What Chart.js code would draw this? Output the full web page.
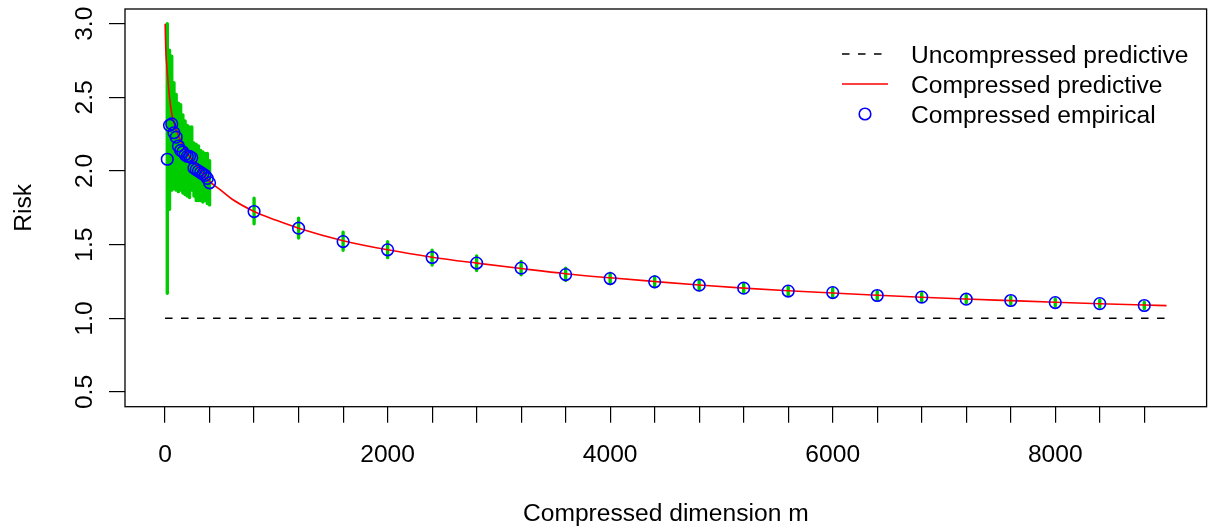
<!DOCTYPE html>
<html>
<head>
<meta charset="utf-8">
<script src="https://cdn.jsdelivr.net/npm/chart.js@4.4.1/dist/chart.umd.min.js"></script>
<style>
  html, body { margin: 0; padding: 0; background: #fff; }
  #riskChart { display: block; }
</style>
</head>
<body>
<canvas id="riskChart" width="1214" height="529"></canvas>
<script>
// Empirical risk of the compressed model, with its spread (green bars)
const empM = [20, 40, 60, 80, 100, 120, 140, 160, 180, 200, 220, 240, 260, 280, 300, 320, 340, 360, 380, 400,
              800, 1200, 1600, 2000, 2400, 2800, 3200, 3600, 4000, 4400, 4800, 5200, 5600, 6000, 6400, 6800,
              7200, 7600, 8000, 8400, 8800];
const empRisk = [2.08, 2.31, 2.32, 2.26, 2.23, 2.17, 2.14, 2.13, 2.11, 2.10, 2.10, 2.09, 2.02, 2.01, 2.00, 1.99, 1.98, 1.97, 1.95, 1.92,
                 1.725, 1.612, 1.521, 1.465, 1.413, 1.375, 1.341, 1.297, 1.270, 1.248, 1.225, 1.205, 1.185, 1.175, 1.155, 1.144,
                 1.130, 1.121, 1.107, 1.100, 1.087];
const empLo = [1.17, 1.74, 1.87, 1.88, 1.87, 1.86, 1.87, 1.85, 1.84, 1.83, 1.82, 1.87, 1.83, 1.80, 1.80, 1.80, 1.79, 1.80, 1.78, 1.77,
               1.642, 1.545, 1.462, 1.412, 1.362, 1.325, 1.296, 1.256, 1.234, 1.214, 1.193, 1.175, 1.156, 1.147, 1.128, 1.118,
               1.105, 1.096, 1.083, 1.077, 1.065];
const empHi = [3.00, 2.82, 2.78, 2.60, 2.52, 2.46, 2.45, 2.38, 2.34, 2.31, 2.30, 2.30, 2.19, 2.18, 2.17, 2.14, 2.13, 2.12, 2.12, 2.07,
               1.816, 1.680, 1.585, 1.520, 1.462, 1.424, 1.386, 1.340, 1.306, 1.282, 1.257, 1.235, 1.214, 1.203, 1.182, 1.170,
               1.155, 1.146, 1.131, 1.123, 1.109];

// Predictive risk curve (compressed) and the uncompressed level
const predM = [1, 3, 6, 10, 15, 20, 30, 40, 60, 80, 100, 150, 200, 250, 300, 400, 500, 600, 800, 1000, 1200, 1600,
               2000, 2400, 2800, 3200, 3600, 4000, 4400, 4800, 5200, 5600, 6000, 6400, 6800, 7200, 7600, 8000,
               8400, 8800, 9000];
const predRisk = [3.00, 2.92, 2.84, 2.77, 2.72, 2.67, 2.58, 2.50, 2.39, 2.33, 2.28, 2.19, 2.12, 2.07, 2.02, 1.93, 1.87, 1.81,
                  1.725, 1.665, 1.612, 1.527, 1.465, 1.415, 1.375, 1.338, 1.303, 1.275, 1.250, 1.226, 1.205, 1.187,
                  1.172, 1.157, 1.143, 1.131, 1.120, 1.109, 1.099, 1.090, 1.086];
const uncompM = [0, 9000];
const uncompRisk = [1, 1];

// Axis ticks
const xTicks = [0, 400, 800, 1200, 1600, 2000, 2400, 2800, 3200, 3600, 4000, 4400, 4800, 5200, 5600, 6000,
                6400, 6800, 7200, 7600, 8000, 8400, 8800];
const xLabelTicks = [0, 2000, 4000, 6000, 8000];
const yTicks = [0.5, 1.0, 1.5, 2.0, 2.5, 3.0];
const yTickLabels = ['0.5', '1.0', '1.5', '2.0', '2.5', '3.0'];

const legendLabels = ['Uncompressed predictive', 'Compressed predictive', 'Compressed empirical'];

const FONT = '24.6px "Liberation Sans", Arial, Helvetica, sans-serif';
const GREEN = '#00CD00';
const DASH = [7.5, 8.5];

// vertical bars as one line dataset broken by nulls
const barPoints = [];
empM.forEach((m, i) => {
  barPoints.push({ x: m, y: empLo[i] }, { x: m, y: empHi[i] }, { x: m, y: null });
});

const framePlugin = {
  id: 'frame',
  afterDraw(chart) {
    const { ctx, chartArea: a, scales } = chart;
    const xs = scales.x, ys = scales.y;
    ctx.save();
    // plot box
    ctx.strokeStyle = '#000';
    ctx.lineWidth = 1.3;
    ctx.strokeRect(a.left, a.top, a.right - a.left, a.bottom - a.top);

    ctx.fillStyle = '#000';
    ctx.font = FONT;
    // x tick labels
    ctx.textAlign = 'center';
    ctx.textBaseline = 'alphabetic';
    xLabelTicks.forEach(v => ctx.fillText(String(v), xs.getPixelForValue(v), 461.5));
    // x title
    ctx.fillText('Compressed dimension m', (a.left + a.right) / 2, 520.5);

    // y tick labels, rotated like R's las = 0
    yTicks.forEach((v, i) => {
      ctx.save();
      ctx.translate(92, ys.getPixelForValue(v));
      ctx.rotate(-Math.PI / 2);
      ctx.fillText(yTickLabels[i], 0, 0);
      ctx.restore();
    });
    ctx.save();
    ctx.translate(31, (a.top + a.bottom) / 2);
    ctx.rotate(-Math.PI / 2);
    ctx.fillText('Risk', 0, 0);
    ctx.restore();

    // legend (R, bty = "n")
    const sx0 = 842, sx1 = 888, tx = 911;
    const rows = [54, 84, 114];
    ctx.lineWidth = 1.5;
    ctx.strokeStyle = '#000';
    ctx.setLineDash(DASH);
    ctx.beginPath(); ctx.moveTo(sx0, rows[0]); ctx.lineTo(sx1, rows[0]); ctx.stroke();
    ctx.setLineDash([]);
    ctx.strokeStyle = '#FF0000';
    ctx.beginPath(); ctx.moveTo(sx0, rows[1]); ctx.lineTo(sx1, rows[1]); ctx.stroke();
    ctx.strokeStyle = '#0000FF';
    ctx.lineWidth = 1.6;
    ctx.beginPath(); ctx.arc((sx0 + sx1) / 2, rows[2], 5.8, 0, Math.PI * 2); ctx.stroke();

    ctx.textAlign = 'left';
    legendLabels.forEach((t, i) => ctx.fillText(t, tx, rows[i] + 8.6));
    ctx.restore();
  }
};

new Chart(document.getElementById('riskChart'), {
  type: 'line',
  data: {
    datasets: [
      {
        label: 'Compressed empirical',
        data: empM.map((m, i) => ({ x: m, y: empRisk[i] })),
        showLine: false,
        pointRadius: 5.8,
        pointBorderWidth: 1.6,
        pointBorderColor: '#0000FF',
        pointBackgroundColor: 'rgba(0,0,0,0)',
        order: 0,
      },
      {
        label: 'Compressed predictive',
        data: predM.map((m, i) => ({ x: m, y: predRisk[i] })),
        borderColor: '#FF0000',
        borderWidth: 1.6,
        pointRadius: 0,
        cubicInterpolationMode: 'monotone',
        order: 1,
      },
      {
        label: 'spread',
        data: barPoints,
        borderColor: GREEN,
        borderWidth: 3.4,
        borderCapStyle: 'round',
        pointRadius: 0,
        spanGaps: false,
        order: 2,
      },
      {
        label: 'Uncompressed predictive',
        data: uncompM.map((m, i) => ({ x: m, y: uncompRisk[i] })),
        borderColor: '#000',
        borderWidth: 1.5,
        borderDash: DASH,
        pointRadius: 0,
        order: 3,
      },
    ],
  },
  options: {
    responsive: false,
    animation: false,
    events: [],
    layout: { padding: { top: 9, right: 2, left: 0, bottom: 0 } },
    plugins: {
      legend: { display: false },
      tooltip: { enabled: false },
    },
    scales: {
      x: {
        type: 'linear',
        min: -360,
        max: 9360,
        afterBuildTicks: axis => { axis.ticks = xTicks.map(v => ({ value: v })); },
        afterFit: axis => { axis.height = 122.3; },
        ticks: { display: false },
        border: { display: false },
        grid: { drawOnChartArea: false, drawTicks: true, tickLength: 16, color: '#000', lineWidth: 1.2 },
      },
      y: {
        type: 'linear',
        min: 0.4,
        max: 3.1,
        afterBuildTicks: axis => { axis.ticks = yTicks.map(v => ({ value: v })); },
        afterFit: axis => { axis.width = 125; },
        ticks: { display: false },
        border: { display: false },
        grid: { drawOnChartArea: false, drawTicks: true, tickLength: 16, color: '#000', lineWidth: 1.2 },
      },
    },
  },
  plugins: [framePlugin],
});
</script>
</body>
</html>
